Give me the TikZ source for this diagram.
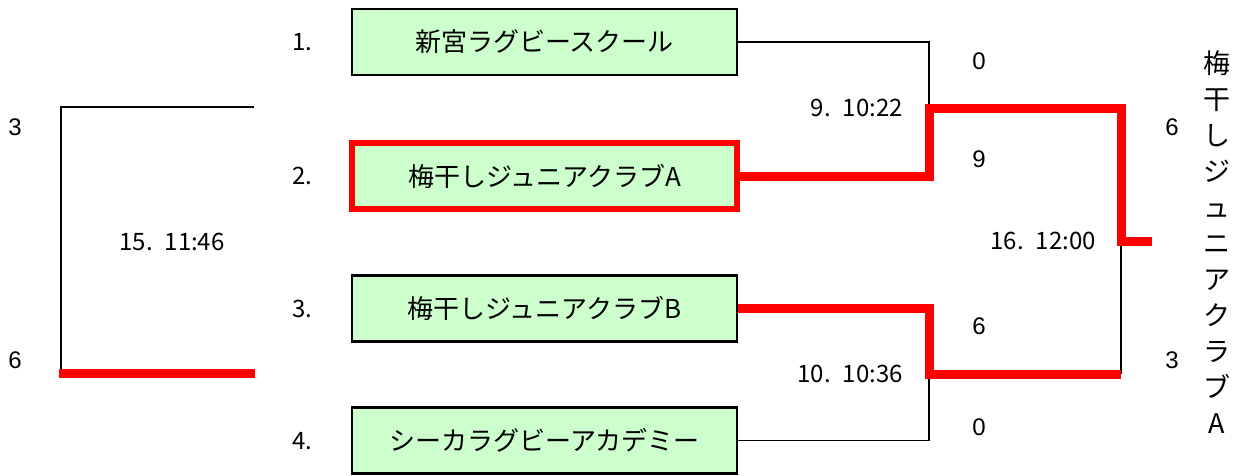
\documentclass[tikz,border=0pt]{standalone}
\usepackage{fontspec}
\setmainfont{Noto Sans CJK JP}
\newfontfamily\scorefont{Liberation Sans}
\usetikzlibrary{positioning, calc}
\definecolor{teamgreen}{RGB}{204,255,204}

\begin{document}
\begin{tikzpicture}[x=1pt, y=-1pt,
		teambox/.style={draw, line width=2.3pt, fill=teamgreen, minimum width=385pt, minimum height=66pt, inner sep=0pt, font=\fontsize{26}{30}\selectfont},
		winbox/.style={draw=red, line width=6pt},
		seed/.style={font=\fontsize{24}{28}\selectfont},
		score/.style={font=\scorefont\fontsize{24}{28}\selectfont},
		slot/.style={anchor=east, inner sep=0pt, font=\fontsize{24}{28}\selectfont},
		bracket/.style={line width=1.3pt},
		winline/.style={red, line width=9pt}]
		\useasboundingbox (0,0) rectangle (1238,475);

		\coordinate (m9)    at (929, 108);
		\coordinate (m10)   at (929, 374);
		\coordinate (f16a)  at (1121, 108);
		\coordinate (f16b)  at (1121, 241);
		\coordinate (f16c)  at (1121, 374);
		\coordinate (champend) at (1152, 241);
		\coordinate (l15a)  at (254, 107);
		\coordinate (l15b)  at (61, 107);
		\coordinate (l15c)  at (61, 373);
		\coordinate (l15d)  at (59, 373);
		\coordinate (l15e)  at (255, 373);

		\node[teambox] (team1) at (544.5, 42) {新宮ラグビースクール};
		\node[teambox, winbox] (team2) at (544.5, 176) {梅干しジュニアクラブA};
		\node[teambox] (team3) at (544.5, 308.5) {梅干しジュニアクラブB};
		\node[teambox] (team4) at (544.5, 440.5) {シーカラグビーアカデミー};

		\node[seed] (seed1) at (302, 42) {1.};
		\node[seed] (seed2) at (302, 176) {2.};
		\node[seed] (seed3) at (302, 309) {3.};
		\node[seed] (seed4) at (302, 441) {4.};

		\node[slot] (game9)  at (903, 108) {9.\enspace 10:22};
		\node[slot] (game10) at (903, 374) {10.\enspace 10:36};
		\node[slot] (game16) at (1096, 241) {16.\enspace 12:00};
		\node[font=\fontsize{24}{28}\selectfont] (game15) at (172, 242) {15.\enspace 11:46};

		\node[score] (sc1) at (979, 61) {0};
		\node[score] (sc2) at (979, 159) {9};
		\node[score] (sc3) at (979, 326) {6};
		\node[score] (sc4) at (979, 427) {0};
		\node[score] (sc9) at (1172, 127) {6};
		\node[score] (sc10) at (1172, 360) {3};
		\node[score] (sc15a) at (15, 127) {3};
		\node[score] (sc15b) at (15, 360) {6};

		\node[align=center, inner sep=0pt, font=\fontsize{27}{36}\selectfont] (champ) at (1217, 242) {梅\\干\\し\\ジ\\ュ\\ニ\\ア\\ク\\ラ\\ブ\\A};

		% losers
		\draw[bracket] (team1.east) -| (m9);
		\draw[bracket] (team4.east) -| (m10);
		\draw[bracket] (f16b) -- (f16c);
		\draw[bracket] (l15a) -- (l15b) -- (l15c);

		% winners
		\draw[winline] (team2.east) -| (m9) -- (f16a) -- (f16b) -- (champend);
		\draw[winline] (team3.east) -| (m10) -- (f16c);
		\draw[winline] (l15d) -- (l15e);
	\end{tikzpicture}
\end{document}
